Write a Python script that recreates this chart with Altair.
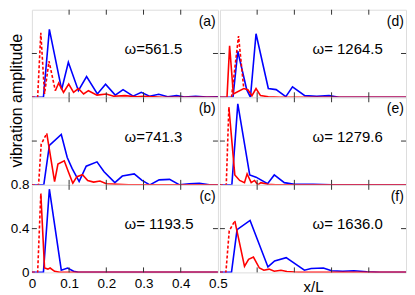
import altair as alt
import pandas as pd

# ---------------- data ----------------
A_BLUE = [(0, 0), (0.031, 0), (0.047, 0.62), (0.080, 0.07), (0.098, 0.32), (0.125, 0.06),
          (0.147, 0.19), (0.176, 0.03), (0.198, 0.12), (0.224, 0.02), (0.245, 0.07),
          (0.272, 0.01), (0.294, 0.045), (0.316, 0.01), (0.341, 0.027), (0.365, 0.005),
          (0.389, 0.015), (0.41, 0.003), (0.44, 0.01), (0.47, 0.002), (0.5, 0.004)]
A_DASH = [(0, 0), (0.0155, 0), (0.024, 0.59), (0.034, 0.03), (0.046, 0.33), (0.063, 0.06)]
A_RED = [(0.063, 0.06), (0.072, 0.13), (0.085, 0.045), (0.099, 0.12), (0.112, 0.045),
         (0.125, 0.08), (0.139, 0.03), (0.152, 0.06), (0.175, 0.02), (0.2, 0.03),
         (0.22, 0.01), (0.25, 0.015), (0.28, 0.005), (0.3, 0.008), (0.35, 0.0), (0.5, 0)]

B_BLUE = [(0, 0), (0.032, 0), (0.047, 0.36), (0.079, 0.46), (0.095, 0.25), (0.108, 0.15),
          (0.127, 0.03), (0.146, 0.17), (0.175, 0.21), (0.194, 0.12), (0.223, 0.02),
          (0.243, 0.08), (0.275, 0.10), (0.296, 0.04), (0.317, 0.0), (0.342, 0.045),
          (0.37, 0.05), (0.397, 0.0), (0.423, 0.01), (0.45, 0.015), (0.477, 0.0), (0.5, 0.0)]
B_DASH = [(0, 0), (0.018, 0), (0.025, 0.37), (0.040, 0.47)]
B_RED = [(0.040, 0.47), (0.061, 0.03), (0.070, 0.19), (0.087, 0.22), (0.098, 0.12),
         (0.110, 0.015), (0.121, 0.075), (0.136, 0.092), (0.150, 0.04), (0.166, 0.025),
         (0.183, 0.035), (0.2, 0.01), (0.23, 0.005), (0.26, 0), (0.5, 0)]

C_BLUE = [(0, 0), (0.031, 0), (0.047, 0.76), (0.079, 0.02), (0.096, 0.04), (0.112, 0.01),
          (0.125, 0), (0.5, 0)]
C_DASH = [(0, 0), (0.0155, 0), (0.024, 0.72)]
C_RED = [(0.024, 0.72), (0.034, 0.04), (0.043, 0.03), (0.049, 0.04), (0.061, 0.01),
         (0.075, 0), (0.5, 0)]

D_BLUE = [(0.5, 0), (0.535, 0), (0.548, 0.42), (0.572, 0.07), (0.582, 0), (0.597, 0.58),
          (0.630, 0.08), (0.651, 0.07), (0.677, 0.005), (0.695, 0.095), (0.728, 0.015),
          (0.76, 0.01), (0.793, 0.015), (0.82, 0.0), (1.0, 0)]
D_DASH = [(0.531, 0), (0.55, 0.56), (0.564, 0.08)]
D_RED = [(0.5, 0), (0.519, 0), (0.526, 0.47), (0.536, 0.03), (0.564, 0.08), (0.575, 0.07),
         (0.586, 0.015), (0.597, 0.08), (0.609, 0.015), (0.63, 0.005), (0.66, 0), (1.0, 0)]

E_BLUE = [(0.5, 0), (0.532, 0), (0.548, 0.74), (0.58, 0.09), (0.597, 0.07), (0.628, 0.01),
          (0.646, 0.09), (0.673, 0.02), (0.70, 0.005), (0.75, 0.005), (0.8, 0), (1.0, 0)]
E_DASH = [(0.5, 0), (0.517, 0), (0.524, 0.71)]
E_RED = [(0.524, 0.71), (0.54, 0.09), (0.553, 0.04), (0.566, 0.02), (0.573, 0.10),
         (0.584, 0.02), (0.593, 0.04), (0.602, 0.0), (0.61, 0.02), (0.628, 0.005),
         (0.65, 0), (1.0, 0)]

F_BLUE = [(0.5, 0), (0.531, 0), (0.546, 0.39), (0.581, 0.475), (0.629, 0.05), (0.647, 0.105),
          (0.678, 0.135), (0.727, 0.02), (0.745, 0.035), (0.778, 0.04), (0.80, 0.015),
          (0.83, 0.01), (0.86, 0.015), (0.895, 0.006), (0.93, 0.0), (1.0, 0)]
F_DASH = [(0.5, 0), (0.516, 0), (0.525, 0.38), (0.54, 0.47)]
F_RED = [(0.54, 0.47), (0.566, 0.055), (0.577, 0.12), (0.59, 0.14), (0.606, 0.04),
         (0.618, 0.02), (0.632, 0.03), (0.646, 0.01), (0.664, 0.02), (0.68, 0.008),
         (0.70, 0.003), (0.73, 0), (1.0, 0)]

OMEGA = ["ω=561.5", "ω=741.3", "ω= 1193.5", "ω= 1264.5", "ω= 1279.6", "ω= 1636.0"]
TAGS = ["(a)", "(b)", "(c)", "(d)", "(e)", "(f)"]
X_TICKS_LEFT = [0.1, 0.2, 0.3, 0.4]
X_TICKS_RIGHT = [0.6, 0.7, 0.8, 0.9]
Y_TICKS = [0.4]
X_LABELS = [0, 0.1, 0.2, 0.3, 0.4, 0.5]
Y_LABELS = [0, 0.4, 0.8]

W, H = 187, 88
FONT = "Liberation Sans"
FRAME = "#333333"


def df(pts):
    return pd.DataFrame(pts, columns=["x", "y"])


def panel(blue, red, dash, omega, tag, left, kind):
    x0 = 0.0 if left else 0.5
    x1 = x0 + 0.5
    xscale = alt.Scale(domain=[x0, x1], nice=False, zero=False)
    yscale = alt.Scale(domain=[0, 0.8], nice=False, zero=False)

    xaxis = None
    yaxis = None
    if kind == "labels":
        xaxis = alt.Axis(values=X_LABELS, format="~g", title=None, ticks=False, tickSize=0,
                         domain=False, grid=False, labelFlush=False, labelPadding=4,
                         labelFontSize=13.5, labelFont=FONT, labelColor="black")
        yaxis = alt.Axis(values=Y_LABELS, format="~g", title=None, ticks=False, tickSize=0,
                         domain=False, grid=False, labelFlush=False, labelPadding=3,
                         labelFontSize=13.5, labelFont=FONT, labelColor="black")
    elif kind == "ytitle":
        yaxis = alt.Axis(title="vibration amplitude", labels=False, ticks=False, tickSize=0,
                         domain=False, grid=False, titleFont=FONT, titleFontSize=16,
                         titleFontWeight="normal", titleColor="black", titleAngle=270,
                         titleX=-15, titleY=91, titleAlign="center", titleBaseline="middle")
    elif kind == "xtitle":
        xaxis = alt.Axis(title="x/L", labels=False, ticks=False, tickSize=0, domain=False,
                         grid=False, titleFont=FONT, titleFontSize=15,
                         titleFontWeight="normal", titleColor="black", titleY=14,
                         titleBaseline="middle")

    X = alt.X("x:Q", scale=xscale, axis=xaxis)
    Y = alt.Y("y:Q", scale=yscale, axis=yaxis)

    blue_l = alt.Chart(df(blue)).mark_line(color="#0000ff", strokeWidth=1.6, clip=True).encode(x=X, y=Y)
    red_l = alt.Chart(df(red)).mark_line(color="#ff0000", strokeWidth=1.6, clip=True).encode(x=X, y=Y)
    dash_l = alt.Chart(df(dash)).mark_line(color="#ff0000", strokeWidth=1.6, strokeDash=[3, 2],
                                           clip=True).encode(x=X, y=Y)

    om = alt.Chart(pd.DataFrame({"x": [x0 + 0.249], "y": [0.44], "t": [omega]})).mark_text(
        align="left", baseline="middle", fontSize=15, font=FONT, color="black"
    ).encode(x=X, y=Y, text="t:N")
    tg = alt.Chart(pd.DataFrame({"x": [x1 - 0.006], "y": [0.69], "t": [tag]})).mark_text(
        align="right", baseline="middle", fontSize=14, font=FONT, color="black"
    ).encode(x=X, y=Y, text="t:N")

    xt = pd.DataFrame({"x": X_TICKS_LEFT if left else X_TICKS_RIGHT})
    yt = pd.DataFrame({"y": Y_TICKS})
    t_top = alt.Chart(xt).mark_rule(color=FRAME, strokeWidth=1).encode(x=X, y=alt.value(0), y2=alt.value(5))
    t_bot = alt.Chart(xt).mark_rule(color=FRAME, strokeWidth=1).encode(x=X, y=alt.value(H), y2=alt.value(H - 5))
    t_lft = alt.Chart(yt).mark_rule(color=FRAME, strokeWidth=1).encode(y=Y, x=alt.value(0), x2=alt.value(5))
    t_rgt = alt.Chart(yt).mark_rule(color=FRAME, strokeWidth=1).encode(y=Y, x=alt.value(W), x2=alt.value(W - 5))

    return alt.layer(blue_l, red_l, dash_l, om, tg, t_top, t_bot, t_lft, t_rgt).properties(width=W, height=H)


pa = panel(A_BLUE, A_RED, A_DASH, OMEGA[0], TAGS[0], True, "ytitle")
pb = panel(B_BLUE, B_RED, B_DASH, OMEGA[1], TAGS[1], True, "none")
pc = panel(C_BLUE, C_RED, C_DASH, OMEGA[2], TAGS[2], True, "labels")
pd_ = panel(D_BLUE, D_RED, D_DASH, OMEGA[3], TAGS[3], False, "none")
pe = panel(E_BLUE, E_RED, E_DASH, OMEGA[4], TAGS[4], False, "none")
pf = panel(F_BLUE, F_RED, F_DASH, OMEGA[5], TAGS[5], False, "xtitle")

chart = alt.concat(
    pa, pd_, pb, pe, pc, pf,
    columns=2,
    spacing={"row": 0, "column": 2},
    bounds="flush",
    align="all",
).properties(padding=0).configure_view(stroke=FRAME, strokeWidth=1).configure(background="white")

chart.save("out.html", embed_options={"renderer": "svg", "actions": False})
